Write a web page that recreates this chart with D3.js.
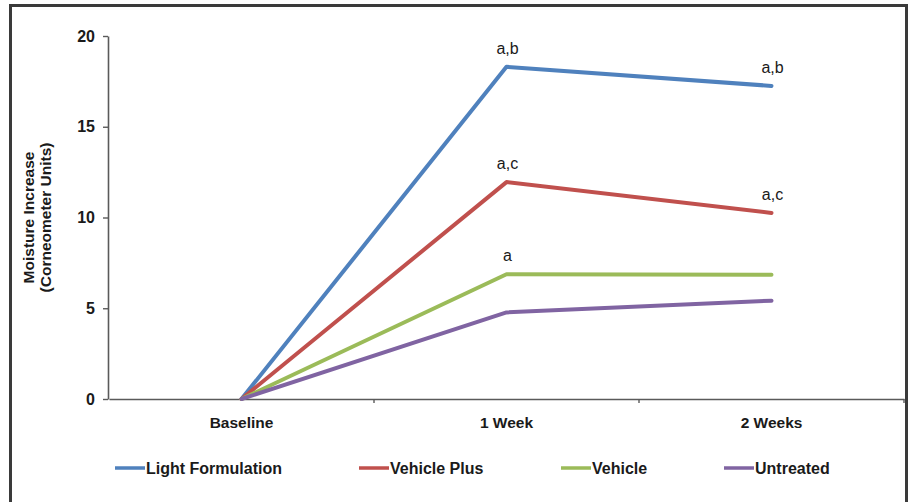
<!DOCTYPE html>
<html>
<head>
<meta charset="utf-8">
<script src="https://cdn.jsdelivr.net/npm/d3@7"></script>
<style>
  html, body { margin: 0; padding: 0; background: #fff; }
  svg { display: block; font-family: "Liberation Sans", Arial, sans-serif; }
</style>
</head>
<body>
<svg id="chart" width="915" height="502"></svg>
<script>
// Time points on the x axis
const categories = ["Baseline", "1 Week", "2 Weeks"];

// Mean moisture increase (Corneometer units) per treatment
const lightFormulation = [0, 18.3, 17.25];
const vehiclePlus      = [0, 11.95, 10.25];
const vehicle          = [0, 6.87, 6.84];
const untreated        = [0, 4.77, 5.42];

// Significance letters shown above points (null = none)
const lightLetters   = [null, "a,b", "a,b"];
const plusLetters    = [null, "a,c", "a,c"];
const vehicleLetters = [null, "a", null];
const untreatedLetters = [null, null, null];

const yTicks = [0, 5, 10, 15, 20];

const series = [
  { name: "Light Formulation", values: lightFormulation, letters: lightLetters, color: "#4F81BD" },
  { name: "Vehicle Plus",      values: vehiclePlus,      letters: plusLetters,  color: "#C0504D" },
  { name: "Vehicle",           values: vehicle,          letters: vehicleLetters, color: "#9BBB59" },
  { name: "Untreated",         values: untreated,        letters: untreatedLetters, color: "#8064A2" }
];

const svg = d3.select("#chart");

// Outer frame
svg.append("rect")
  .attr("x", 10.5).attr("y", 5.5)
  .attr("width", 896).attr("height", 510)
  .attr("fill", "#fff")
  .attr("stroke", "#3a3a3a")
  .attr("stroke-width", 3);

const x = d3.scaleBand().domain(categories).range([109, 904]);
const y = d3.scaleLinear().domain([0, 20]).range([399, 36]);
const cx = c => x(c) + x.bandwidth() / 2;

const axisColor = "#5a5a5a";

// Y axis
const gy = svg.append("g").attr("transform", "translate(108,0)")
  .call(d3.axisLeft(y).tickValues(yTicks).tickSize(5).tickSizeOuter(0).tickPadding(8));
gy.select(".domain").attr("stroke", axisColor).attr("stroke-width", 1.6);
gy.selectAll(".tick line").attr("stroke", axisColor).attr("stroke-width", 1.4);
gy.selectAll(".tick text")
  .attr("font-size", 16).attr("font-weight", "bold").attr("fill", "#1a1a1a")
  .attr("font-family", "Liberation Sans, Arial, sans-serif");

// X axis: category labels centred in bands
const gx = svg.append("g").attr("transform", "translate(0,399)")
  .call(d3.axisBottom(x).tickSize(0).tickSizeOuter(0).tickPadding(18));
gx.select(".domain").attr("stroke", axisColor).attr("stroke-width", 1.6);
gx.selectAll(".tick text")
  .attr("font-size", 15.5).attr("font-weight", "bold").attr("fill", "#1a1a1a")
  .attr("font-family", "Liberation Sans, Arial, sans-serif");

// Tick marks at band boundaries
gx.selectAll(".bound")
  .data(categories)
  .join("line")
  .attr("class", "bound")
  .attr("x1", d => x(d) + x.bandwidth()).attr("x2", d => x(d) + x.bandwidth())
  .attr("y1", 0).attr("y2", 4)
  .attr("stroke", axisColor).attr("stroke-width", 1.4);

// Y axis title
svg.append("text")
  .attr("transform", `translate(34,${(y(0) + y(20)) / 2}) rotate(-90)`)
  .attr("text-anchor", "middle")
  .attr("font-size", 15.5).attr("font-weight", "bold").attr("fill", "#1a1a1a")
  .selectAll("tspan")
  .data(["Moisture Increase", "(Corneometer Units)"])
  .join("tspan")
  .attr("x", 0)
  .attr("dy", (d, i) => i === 0 ? 0 : 17)
  .text(d => d);

// Lines
const line = d3.line()
  .x((d, i) => cx(categories[i]))
  .y(d => y(d));

svg.selectAll(".series")
  .data(series)
  .join("path")
  .attr("class", "series")
  .attr("d", d => line(d.values))
  .attr("fill", "none")
  .attr("stroke", d => d.color)
  .attr("stroke-width", 4)
  .attr("stroke-linejoin", "round")
  .attr("stroke-linecap", "round");

// Significance letters
series.forEach(s => {
  s.values.forEach((v, i) => {
    if (!s.letters[i]) return;
    svg.append("text")
      .attr("x", cx(categories[i]) + 1)
      .attr("y", y(v) - 13)
      .attr("text-anchor", "middle")
      .attr("font-size", 16)
      .attr("fill", "#1a1a1a")
      .text(s.letters[i]);
  });
});

// Legend
const legendX = [115, 359, 561, 724];
const leg = svg.selectAll(".legend")
  .data(series)
  .join("g")
  .attr("class", "legend")
  .attr("transform", (d, i) => `translate(${legendX[i]},468)`);
leg.append("line")
  .attr("x1", 0).attr("x2", 30).attr("y1", 0).attr("y2", 0)
  .attr("stroke", d => d.color).attr("stroke-width", 3.5);
leg.append("text")
  .attr("x", 31).attr("y", 5.5)
  .attr("font-size", 16).attr("font-weight", "bold").attr("fill", "#1a1a1a")
  .text(d => d.name);
</script>
</body>
</html>
